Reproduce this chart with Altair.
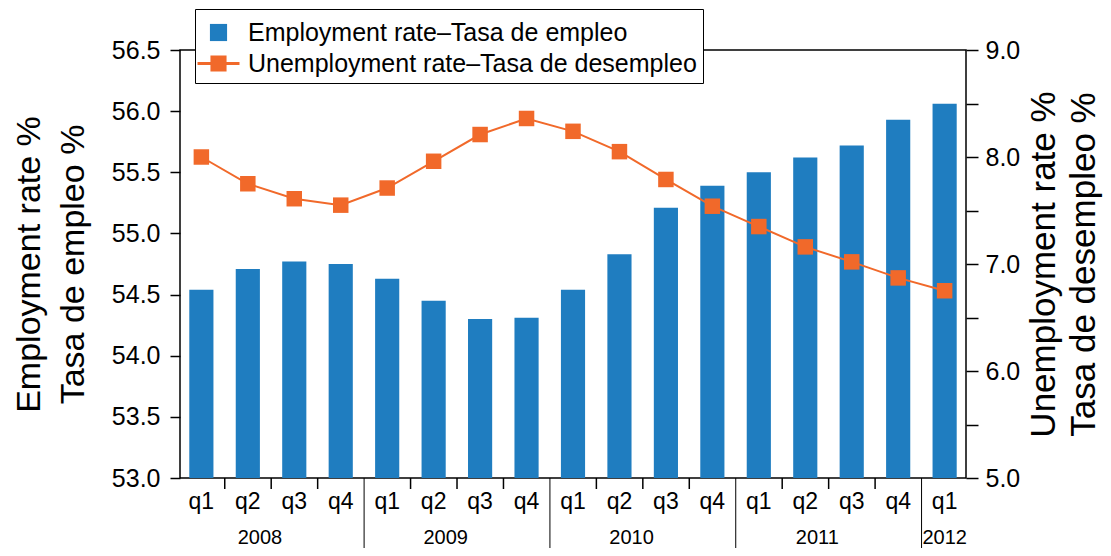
import altair as alt
import pandas as pd

years = ["2008", "2009", "2010", "2011", "2012"]
quarters_in_year = [4, 4, 4, 4, 1]
quarter_names = ["q1", "q2", "q3", "q4"]
employment = [54.54, 54.71, 54.77, 54.75, 54.63, 54.45, 54.30, 54.31,
              54.54, 54.83, 55.21, 55.39, 55.50, 55.62, 55.72, 55.93, 56.06]
unemployment = [8.00, 7.75, 7.61, 7.55, 7.71, 7.96, 8.21, 8.36,
                8.24, 8.05, 7.79, 7.54, 7.35, 7.16, 7.02, 6.87, 6.75]
series_names = ["Employment rate–Tasa de empleo", "Unemployment rate–Tasa de desempleo"]
series_colors = ["#1f7dc0", "#f1692a"]
left_ticks = [53.0, 53.5, 54.0, 54.5, 55.0, 55.5, 56.0, 56.5]
right_ticks = [5.0, 5.5, 6.0, 6.5, 7.0, 7.5, 8.0, 8.5, 9.0]
left_title = ["Employment rate %", "Tasa de empleo %"]
right_title = ["Unemployment rate %", "Tasa de desempleo %"]

FONT = "Liberation Sans"
W, H = 786, 428

rows = []
for y, n in zip(years, quarters_in_year):
    for q in quarter_names[:n]:
        rows.append({"period": f"{y} {q}", "year": y, "quarter": q})
df = pd.DataFrame(rows)
df["employment"] = employment
df["unemployment"] = unemployment
periods = list(df["period"])

year_df = pd.DataFrame({"year": years, "n": quarters_in_year})
year_df["anchor"] = [f"{y} q2" if n > 1 else f"{y} q1" for y, n in zip(years, quarters_in_year)]

legend_df = pd.DataFrame({"series": series_names})

xs = alt.Scale(domain=periods, paddingInner=0.48, paddingOuter=0.2)
x_axis = alt.Axis(title=None, ticks=False, tickSize=0, domain=False, labelAngle=0,
                  labelExpr="split(datum.label, ' ')[1]", labelFont=FONT,
                  labelFontSize=23, labelColor="black", labelPadding=12)
color_scale = alt.Scale(domain=series_names, range=series_colors)

sq = "M-0.49,-0.49H0.49V0.49H-0.49Z"
ln = "M-1.2,-0.086H1.2V0.086H-1.2Z M-0.46,-0.46H0.46V0.46H-0.46Z"

legend = alt.Legend(
    title=None, orient="none", legendX=15, legendY=-41, direction="vertical",
    strokeColor="black", fillColor="white", padding=6,
    labelFont=FONT, labelFontSize=25, labelColor="black", labelLimit=0,
    symbolSize=1225, labelOffset=12, rowPadding=0, symbolStrokeWidth=0,
    symbolOpacity=1,
)


def xenc(field="period", band=None):
    if band is None:
        return alt.X(f"{field}:N", scale=xs, sort=periods, axis=x_axis)
    return alt.X(f"{field}:N", bandPosition=band, scale=xs, sort=periods, axis=x_axis)


bars = alt.Chart(df).mark_bar(color=series_colors[0]).encode(
    x=xenc(),
    y=alt.Y("employment:Q", scale=alt.Scale(domain=[left_ticks[0], left_ticks[-1]],
                                            zero=False, nice=False),
            axis=alt.Axis(orient="left", values=left_ticks, format=".1f", grid=False, domain=False,
                          tickSize=10, tickWidth=1.5, tickColor="black",
                          labelFont=FONT, labelFontSize=25, labelColor="black", labelPadding=10,
                          title=left_title, titleFont=FONT, titleFontSize=34,
                          titleFontWeight="normal", titleColor="black", titleAngle=270,
                          titleX=-141, titleY=214, titleAlign="center",
                          titleBaseline="alphabetic", titleLineHeight=44)),
    y2=alt.datum(left_ticks[0]),
)

line = alt.Chart(df).mark_line(
    color=series_colors[1], strokeWidth=2,
    point=alt.OverlayMarkDef(shape="square", size=240, filled=True,
                             color=series_colors[1], opacity=1),
).encode(
    x=xenc(),
    y=alt.Y("unemployment:Q", scale=alt.Scale(domain=[right_ticks[0], right_ticks[-1]],
                                              zero=False, nice=False),
            axis=alt.Axis(orient="right", values=right_ticks, grid=False, domain=False,
                          labelExpr="datum.value % 1 === 0 ? format(datum.value, '.1f') : ''",
                          tickSize=12, tickWidth=1.5, tickColor="black",
                          labelFont=FONT, labelFontSize=25, labelColor="black", labelPadding=7,
                          title=right_title, titleFont=FONT, titleFontSize=35,
                          titleFontWeight="normal", titleColor="black", titleAngle=270,
                          titleX=88, titleY=214, titleAlign="center",
                          titleBaseline="alphabetic", titleLineHeight=40)),
)

legend_layer = alt.Chart(legend_df).mark_point(filled=True, opacity=0, size=1225).encode(
    x=alt.value(0), y=alt.value(0),
    color=alt.Color("series:N", scale=color_scale, legend=legend),
    shape=alt.Shape("series:N", scale=alt.Scale(domain=series_names, range=[sq, ln]),
                    legend=legend),
)

qticks = alt.Chart(df).transform_filter("datum.quarter !== 'q1'").mark_rule(
    color="black", strokeWidth=1.5, xOffset=-11
).encode(
    x=xenc(band=0),
    y=alt.value(H), y2=alt.value(H + 11),
)

seps = alt.Chart(df).transform_filter(
    f"datum.quarter === 'q1' && datum.year !== '{years[0]}'"
).mark_rule(color="black", strokeWidth=1, xOffset=-11).encode(
    x=xenc(band=0),
    y=alt.value(H), y2=alt.value(H + 80),
)

ytext_full = alt.Chart(year_df).transform_filter("datum.n > 1").mark_text(
    font=FONT, fontSize=20, baseline="alphabetic", align="center", color="black"
).encode(
    x=xenc("anchor", band=1),
    y=alt.value(H + 66), text="year:N",
)

ytext_single = alt.Chart(year_df).transform_filter("datum.n <= 1").mark_text(
    font=FONT, fontSize=20, baseline="alphabetic", align="center", color="black"
).encode(
    x=xenc("anchor", band=0.5),
    y=alt.value(H + 66), text="year:N",
)

chart = alt.layer(bars, line, qticks, seps, ytext_full, ytext_single, legend_layer).resolve_scale(
    y="independent"
).properties(
    width=W, height=H,
    autosize=alt.AutoSizeParams(type="none"),
    padding={"left": 172, "top": 42, "right": 137, "bottom": 70},
).configure(font=FONT).configure_view(stroke="black", strokeWidth=1.5)

chart.save("out.html", embed_options={"renderer": "svg", "actions": False})
